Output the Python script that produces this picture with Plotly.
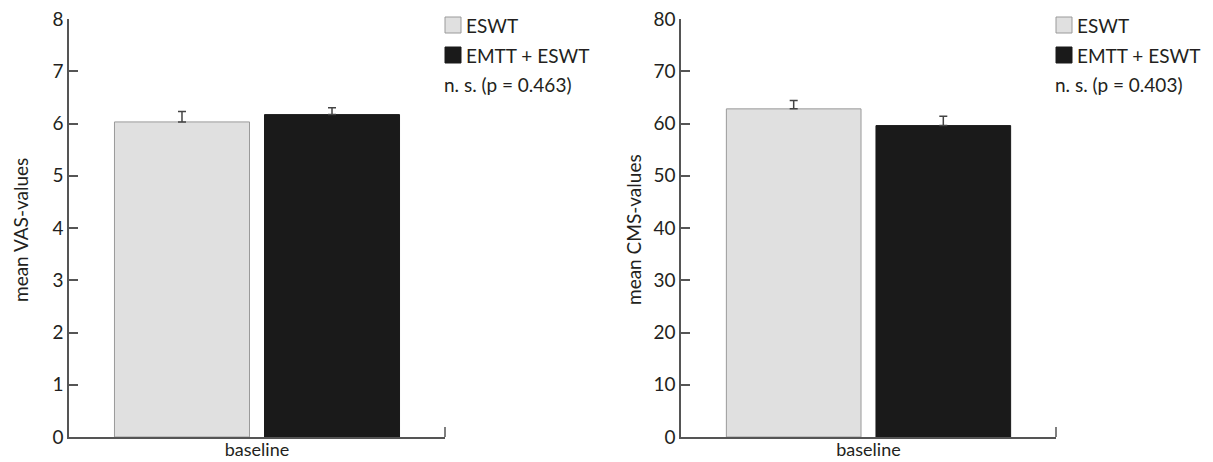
import plotly.graph_objects as go

# ---- data ----
categories = ["baseline"]
groups = ["ESWT", "EMTT + ESWT"]
vas_means = [6.03, 6.17]
vas_err = [0.20, 0.13]
cms_means = [62.8, 59.6]
cms_err = [1.6, 1.8]
vas_ticks = [0, 1, 2, 3, 4, 5, 6, 7, 8]
cms_ticks = [0, 10, 20, 30, 40, 50, 60, 70, 80]
vas_note = "n. s. (p = 0.463)"
cms_note = "n. s. (p = 0.403)"

# ---- style ----
W, H = 1213, 462
FONT = "Lato"
TXT = "#231f20"
AX = "#555555"
fills = ["#e0e0e0", "#1a1a1a"]
edges = ["#9a9a9a", "#1a1a1a"]

def px_x(p):
    return p / W

def px_y(p):
    return 1 - p / H

fig = go.Figure()

panels = [
    dict(xa="x", ya="y", means=vas_means, err=vas_err, ticks=vas_ticks,
         x0=69, x1=445, title="mean VAS-values", tx=20, note=vas_note, lx=445),
    dict(xa="x2", ya="y2", means=cms_means, err=cms_err, ticks=cms_ticks,
         x0=681, x1=1056, title="mean CMS-values", tx=633, note=cms_note, lx=1056),
]

for p in panels:
    for i, g in enumerate(groups):
        fig.add_trace(go.Bar(
            x=categories, y=[p["means"][i]], name=g, showlegend=False,
            marker=dict(color=fills[i], line=dict(color=edges[i], width=1)),
            error_y=dict(type="data", array=[p["err"][i]], arrayminus=[0],
                         symmetric=False, color="#444444", thickness=1.5, width=4),
            xaxis=p["xa"], yaxis=p["ya"],
        ))

ytop, ybot = 19, 437
ydom = [px_y(ybot), px_y(ytop)]

common_x = dict(showline=True, linecolor=AX, linewidth=1.5, ticks="",
                tickfont=dict(family=FONT, size=18, color=TXT), automargin=False,
                ticklabelstandoff=-4,
                range=[-0.5, 0.5], showgrid=False, zeroline=False, fixedrange=True)
common_y = dict(showline=True, linecolor=AX, linewidth=1.5, ticks="inside",
                ticklen=9, tickcolor=AX, tickwidth=1.5, automargin=False,
                tickfont=dict(family=FONT, size=19, color=TXT),
                showgrid=False, zeroline=False)

fig.update_layout(
    width=W, height=H,
    margin=dict(l=0, r=0, t=0, b=0),
    paper_bgcolor="white", plot_bgcolor="white",
    barmode="group", bargap=0.202, bargroupgap=0.1,
    font=dict(family=FONT, color=TXT),
    xaxis=dict(domain=[px_x(69), px_x(445)], anchor="y", **common_x),
    yaxis=dict(domain=ydom, anchor="x", range=[0, 8], tickvals=vas_ticks, **common_y),
    xaxis2=dict(domain=[px_x(681), px_x(1056)], anchor="y2", **common_x),
    yaxis2=dict(domain=ydom, anchor="x2", range=[0, 80], tickvals=cms_ticks, **common_y),
)

for p in panels:
    xd = p["xa"] + " domain"
    yd = p["ya"] + " domain"
    # right end tick of x axis
    fig.add_shape(type="line", xref=xd, yref=yd, x0=1, x1=1, y0=0, y1=10 / (ybot - ytop),
                  line=dict(color=AX, width=1.5))
    # y axis title
    fig.add_annotation(text=p["title"], xref="paper", yref="paper",
                       x=px_x(p["tx"]), y=px_y(230), textangle=-90, showarrow=False,
                       font=dict(family=FONT, size=19, color=TXT),
                       xanchor="center", yanchor="middle")
    # legend swatches and labels
    lx = p["lx"]
    for i, g in enumerate(groups):
        cy = 25 + 30 * i
        fig.add_shape(type="rect", xref="paper", yref="paper",
                      x0=px_x(lx), x1=px_x(lx + 16), y0=px_y(cy + 8), y1=px_y(cy - 8),
                      fillcolor=fills[i], line=dict(color=edges[i], width=1))
        fig.add_annotation(text=g, xref="paper", yref="paper",
                           x=px_x(lx + 19), y=px_y(cy), showarrow=False,
                           xanchor="left", yanchor="middle",
                           font=dict(family=FONT, size=19, color=TXT))
    fig.add_annotation(text=p["note"], xref="paper", yref="paper",
                       x=px_x(lx - 3), y=px_y(84), showarrow=False,
                       xanchor="left", yanchor="middle",
                       font=dict(family=FONT, size=19, color=TXT))

fig.write_html("out.html")
